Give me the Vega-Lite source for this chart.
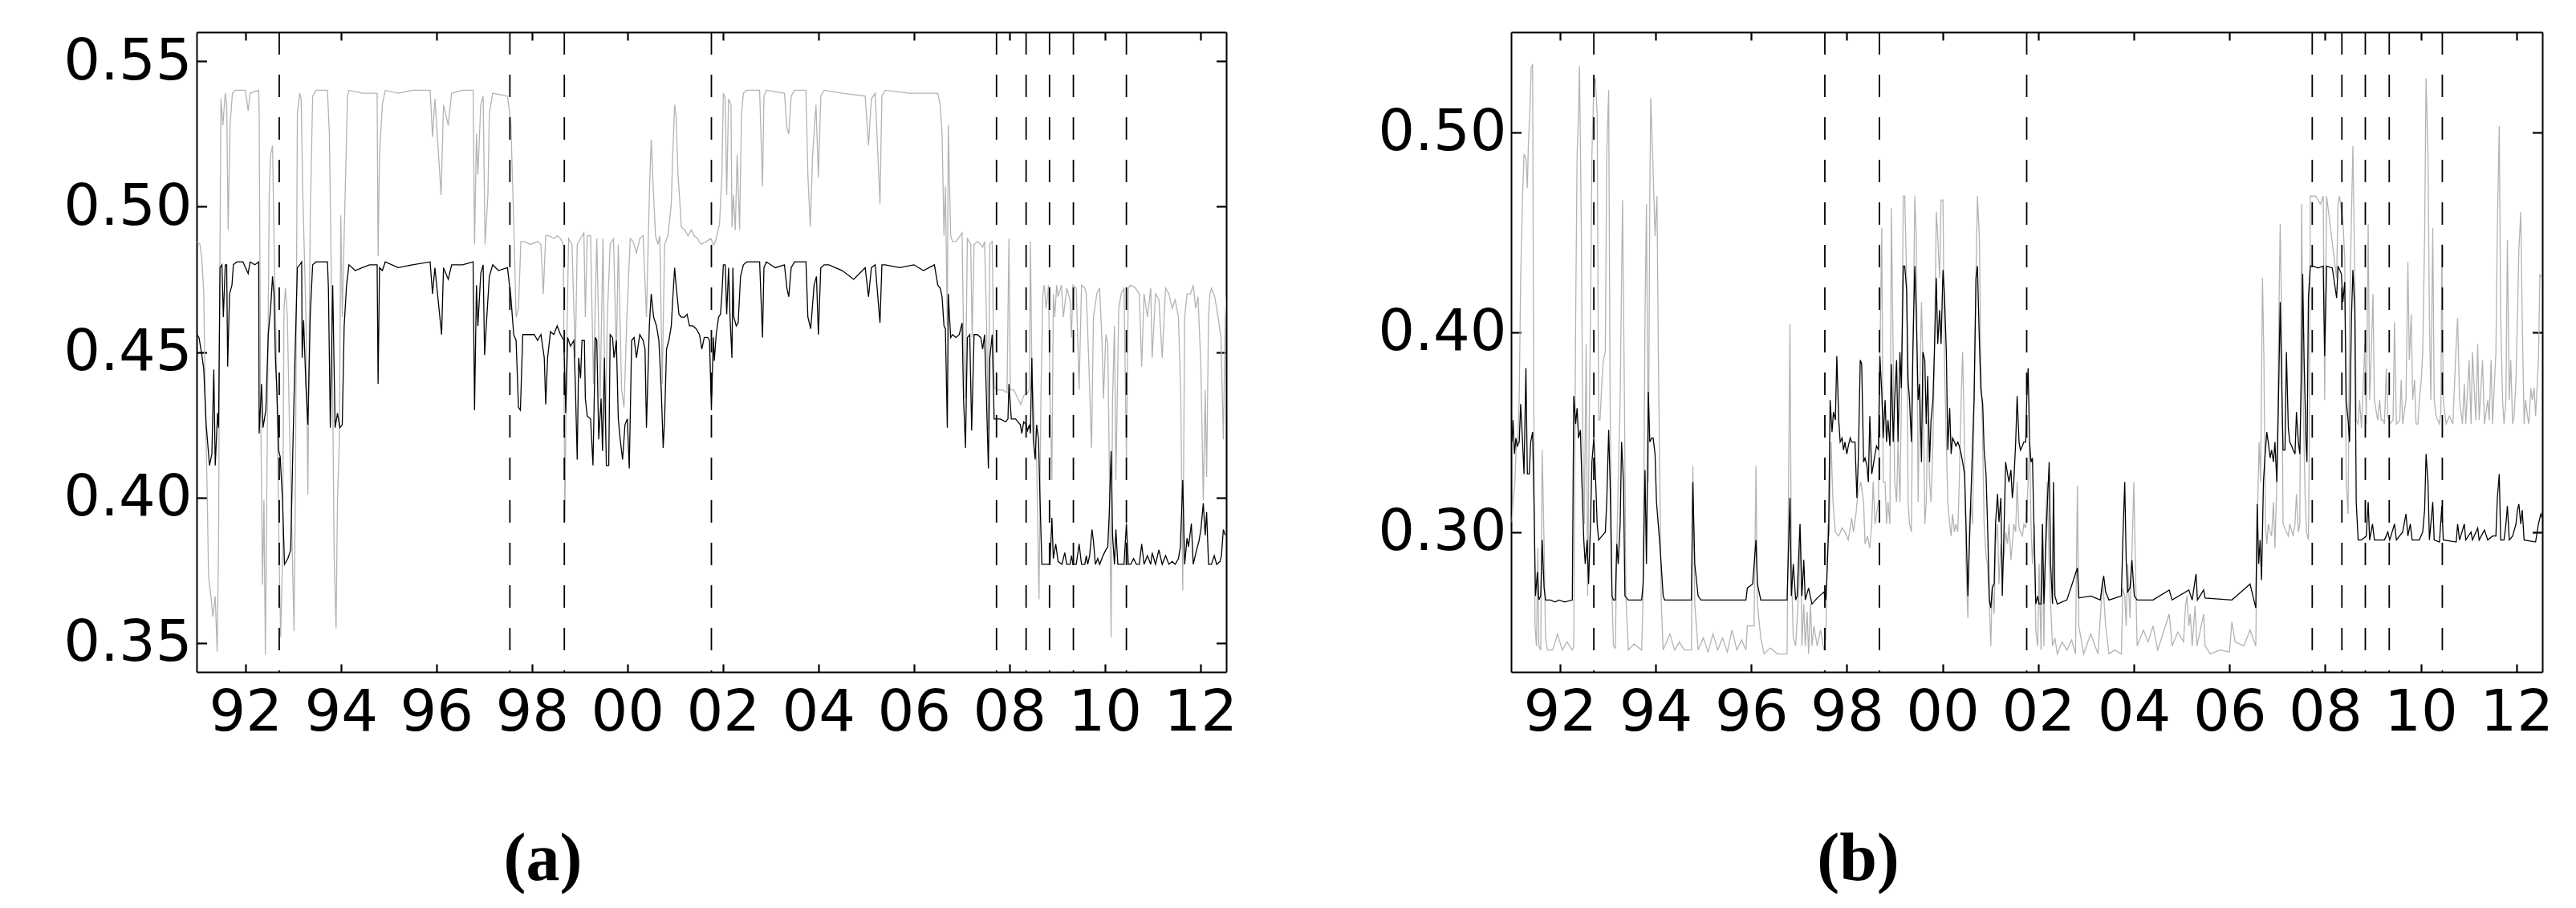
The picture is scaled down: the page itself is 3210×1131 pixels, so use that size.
{
"$schema": "https://vega.github.io/schema/vega-lite/v6.json",
"padding": {"left": 78, "top": 38, "right": 0, "bottom": 0},
"background": "white",
"config": {
  "view": {"stroke": null},
  "axis": {"domainColor": "#000", "tickColor": "#000", "labelColor": "#000", "grid": false, "labelFont": "DejaVu Sans", "labelFontSize": 72, "domainWidth": 2, "tickWidth": 2.2, "labelFlush": false, "labelOverlap": false}
},
"datasets": {
"crisis": [{"t":1992.71},{"t":1997.54},{"t":1998.68},{"t":2001.76},{"t":2007.73},{"t":2008.35},{"t":2008.84},{"t":2009.34},{"t":2010.45}],
"ak": [
{"t":1990.99,"v":0.456},{"t":1991.03,"v":0.455},{"t":1991.09,"v":0.449},{"t":1991.13,"v":0.444},{"t":1991.18,"v":0.425},{"t":1991.25,"v":0.411},{"t":1991.30,"v":0.415},{"t":1991.34,"v":0.444},{"t":1991.37,"v":0.411},{"t":1991.42,"v":0.429},{"t":1991.44,"v":0.424},{"t":1991.47,"v":0.479},{"t":1991.51,"v":0.480},{"t":1991.54,"v":0.462},{"t":1991.58,"v":0.480},{"t":1991.61,"v":0.480},{"t":1991.63,"v":0.445},{"t":1991.67,"v":0.470},{"t":1991.72,"v":0.473},{"t":1991.75,"v":0.480},{"t":1991.82,"v":0.481},{"t":1991.95,"v":0.481},{"t":1992.06,"v":0.477},{"t":1992.10,"v":0.481},{"t":1992.20,"v":0.480},{"t":1992.28,"v":0.481},{"t":1992.29,"v":0.422},{"t":1992.34,"v":0.439},{"t":1992.37,"v":0.424},{"t":1992.43,"v":0.430},{"t":1992.48,"v":0.456},{"t":1992.53,"v":0.465},{"t":1992.57,"v":0.476},{"t":1992.60,"v":0.470},{"t":1992.63,"v":0.448},{"t":1992.66,"v":0.437},{"t":1992.70,"v":0.416},{"t":1992.73,"v":0.414},{"t":1992.78,"v":0.399},{"t":1992.82,"v":0.377},{"t":1992.89,"v":0.379},{"t":1992.95,"v":0.382},{"t":1993.00,"v":0.420},{"t":1993.04,"v":0.448},{"t":1993.09,"v":0.479},{"t":1993.14,"v":0.480},{"t":1993.18,"v":0.481},{"t":1993.19,"v":0.448},{"t":1993.22,"v":0.461},{"t":1993.27,"v":0.438},{"t":1993.31,"v":0.425},{"t":1993.36,"v":0.463},{"t":1993.41,"v":0.480},{"t":1993.48,"v":0.481},{"t":1993.72,"v":0.481},{"t":1993.74,"v":0.472},{"t":1993.78,"v":0.424},{"t":1993.83,"v":0.473},{"t":1993.88,"v":0.424},{"t":1993.93,"v":0.429},{"t":1993.98,"v":0.424},{"t":1994.03,"v":0.425},{"t":1994.07,"v":0.459},{"t":1994.12,"v":0.473},{"t":1994.17,"v":0.480},{"t":1994.30,"v":0.478},{"t":1994.45,"v":0.479},{"t":1994.60,"v":0.480},{"t":1994.76,"v":0.480},{"t":1994.78,"v":0.439},{"t":1994.81,"v":0.479},{"t":1994.87,"v":0.478},{"t":1994.93,"v":0.481},{"t":1995.20,"v":0.479},{"t":1995.50,"v":0.480},{"t":1995.87,"v":0.481},{"t":1995.92,"v":0.470},{"t":1995.97,"v":0.479},{"t":1996.11,"v":0.456},{"t":1996.15,"v":0.479},{"t":1996.25,"v":0.475},{"t":1996.32,"v":0.480},{"t":1996.55,"v":0.480},{"t":1996.77,"v":0.481},{"t":1996.80,"v":0.430},{"t":1996.84,"v":0.473},{"t":1996.87,"v":0.459},{"t":1996.93,"v":0.477},{"t":1996.98,"v":0.480},{"t":1997.01,"v":0.449},{"t":1997.06,"v":0.463},{"t":1997.11,"v":0.476},{"t":1997.18,"v":0.480},{"t":1997.30,"v":0.478},{"t":1997.49,"v":0.479},{"t":1997.56,"v":0.469},{"t":1997.62,"v":0.456},{"t":1997.67,"v":0.454},{"t":1997.72,"v":0.431},{"t":1997.76,"v":0.430},{"t":1997.81,"v":0.456},{"t":1997.88,"v":0.456},{"t":1997.98,"v":0.456},{"t":1998.05,"v":0.456},{"t":1998.12,"v":0.454},{"t":1998.19,"v":0.456},{"t":1998.26,"v":0.448},{"t":1998.29,"v":0.432},{"t":1998.33,"v":0.448},{"t":1998.39,"v":0.457},{"t":1998.46,"v":0.456},{"t":1998.53,"v":0.459},{"t":1998.60,"v":0.456},{"t":1998.67,"v":0.454},{"t":1998.71,"v":0.429},{"t":1998.75,"v":0.455},{"t":1998.81,"v":0.452},{"t":1998.88,"v":0.454},{"t":1998.91,"v":0.439},{"t":1998.95,"v":0.413},{"t":1998.98,"v":0.448},{"t":1999.02,"v":0.441},{"t":1999.05,"v":0.454},{"t":1999.10,"v":0.454},{"t":1999.12,"v":0.434},{"t":1999.16,"v":0.428},{"t":1999.23,"v":0.427},{"t":1999.28,"v":0.411},{"t":1999.33,"v":0.455},{"t":1999.36,"v":0.454},{"t":1999.40,"v":0.420},{"t":1999.45,"v":0.434},{"t":1999.48,"v":0.416},{"t":1999.52,"v":0.448},{"t":1999.56,"v":0.411},{"t":1999.61,"v":0.411},{"t":1999.64,"v":0.456},{"t":1999.69,"v":0.455},{"t":1999.72,"v":0.448},{"t":1999.77,"v":0.454},{"t":1999.81,"v":0.427},{"t":1999.85,"v":0.420},{"t":1999.90,"v":0.413},{"t":1999.95,"v":0.425},{"t":2000.00,"v":0.427},{"t":2000.04,"v":0.410},{"t":2000.09,"v":0.454},{"t":2000.14,"v":0.455},{"t":2000.19,"v":0.448},{"t":2000.26,"v":0.456},{"t":2000.33,"v":0.454},{"t":2000.37,"v":0.451},{"t":2000.40,"v":0.424},{"t":2000.46,"v":0.459},{"t":2000.50,"v":0.470},{"t":2000.55,"v":0.462},{"t":2000.61,"v":0.459},{"t":2000.66,"v":0.454},{"t":2000.71,"v":0.437},{"t":2000.75,"v":0.417},{"t":2000.78,"v":0.427},{"t":2000.82,"v":0.451},{"t":2000.87,"v":0.454},{"t":2000.92,"v":0.459},{"t":2000.95,"v":0.468},{"t":2000.99,"v":0.479},{"t":2001.02,"v":0.473},{"t":2001.08,"v":0.463},{"t":2001.13,"v":0.462},{"t":2001.20,"v":0.462},{"t":2001.25,"v":0.463},{"t":2001.30,"v":0.459},{"t":2001.37,"v":0.459},{"t":2001.44,"v":0.458},{"t":2001.51,"v":0.456},{"t":2001.56,"v":0.451},{"t":2001.61,"v":0.455},{"t":2001.68,"v":0.455},{"t":2001.72,"v":0.454},{"t":2001.76,"v":0.430},{"t":2001.80,"v":0.455},{"t":2001.82,"v":0.447},{"t":2001.86,"v":0.456},{"t":2001.91,"v":0.462},{"t":2001.95,"v":0.463},{"t":2001.98,"v":0.470},{"t":2002.01,"v":0.480},{"t":2002.05,"v":0.480},{"t":2002.08,"v":0.463},{"t":2002.12,"v":0.479},{"t":2002.15,"v":0.462},{"t":2002.19,"v":0.448},{"t":2002.21,"v":0.479},{"t":2002.23,"v":0.462},{"t":2002.28,"v":0.459},{"t":2002.32,"v":0.460},{"t":2002.37,"v":0.476},{"t":2002.43,"v":0.480},{"t":2002.50,"v":0.481},{"t":2002.77,"v":0.481},{"t":2002.83,"v":0.455},{"t":2002.86,"v":0.479},{"t":2002.91,"v":0.481},{"t":2003.10,"v":0.479},{"t":2003.29,"v":0.480},{"t":2003.34,"v":0.472},{"t":2003.38,"v":0.469},{"t":2003.43,"v":0.479},{"t":2003.50,"v":0.481},{"t":2003.74,"v":0.481},{"t":2003.78,"v":0.462},{"t":2003.84,"v":0.458},{"t":2003.91,"v":0.473},{"t":2003.96,"v":0.476},{"t":2004.00,"v":0.456},{"t":2004.05,"v":0.479},{"t":2004.12,"v":0.480},{"t":2004.22,"v":0.480},{"t":2004.50,"v":0.478},{"t":2004.74,"v":0.475},{"t":2004.98,"v":0.479},{"t":2005.05,"v":0.469},{"t":2005.11,"v":0.479},{"t":2005.19,"v":0.480},{"t":2005.29,"v":0.460},{"t":2005.33,"v":0.480},{"t":2005.40,"v":0.480},{"t":2005.70,"v":0.479},{"t":2006.00,"v":0.480},{"t":2006.20,"v":0.478},{"t":2006.43,"v":0.480},{"t":2006.50,"v":0.473},{"t":2006.55,"v":0.472},{"t":2006.59,"v":0.469},{"t":2006.63,"v":0.459},{"t":2006.66,"v":0.458},{"t":2006.70,"v":0.424},{"t":2006.72,"v":0.470},{"t":2006.77,"v":0.455},{"t":2006.81,"v":0.456},{"t":2006.88,"v":0.455},{"t":2006.95,"v":0.456},{"t":2007.01,"v":0.460},{"t":2007.04,"v":0.434},{"t":2007.08,"v":0.417},{"t":2007.12,"v":0.455},{"t":2007.17,"v":0.456},{"t":2007.21,"v":0.423},{"t":2007.26,"v":0.456},{"t":2007.33,"v":0.456},{"t":2007.40,"v":0.455},{"t":2007.44,"v":0.451},{"t":2007.48,"v":0.456},{"t":2007.52,"v":0.434},{"t":2007.56,"v":0.410},{"t":2007.59,"v":0.448},{"t":2007.64,"v":0.456},{"t":2007.68,"v":0.427},{"t":2007.75,"v":0.427},{"t":2007.81,"v":0.427},{"t":2007.92,"v":0.426},{"t":2007.97,"v":0.427},{"t":2007.99,"v":0.439},{"t":2008.04,"v":0.427},{"t":2008.13,"v":0.427},{"t":2008.23,"v":0.425},{"t":2008.26,"v":0.422},{"t":2008.30,"v":0.426},{"t":2008.35,"v":0.425},{"t":2008.38,"v":0.423},{"t":2008.42,"v":0.425},{"t":2008.44,"v":0.422},{"t":2008.47,"v":0.448},{"t":2008.50,"v":0.420},{"t":2008.54,"v":0.413},{"t":2008.57,"v":0.425},{"t":2008.61,"v":0.420},{"t":2008.64,"v":0.400},{"t":2008.68,"v":0.377},{"t":2008.78,"v":0.377},{"t":2008.85,"v":0.377},{"t":2008.89,"v":0.393},{"t":2008.92,"v":0.379},{"t":2008.97,"v":0.384},{"t":2009.02,"v":0.378},{"t":2009.10,"v":0.377},{"t":2009.16,"v":0.381},{"t":2009.20,"v":0.377},{"t":2009.27,"v":0.377},{"t":2009.30,"v":0.380},{"t":2009.33,"v":0.377},{"t":2009.40,"v":0.377},{"t":2009.46,"v":0.384},{"t":2009.51,"v":0.377},{"t":2009.58,"v":0.377},{"t":2009.61,"v":0.380},{"t":2009.64,"v":0.377},{"t":2009.68,"v":0.380},{"t":2009.73,"v":0.389},{"t":2009.76,"v":0.385},{"t":2009.80,"v":0.377},{"t":2009.85,"v":0.379},{"t":2009.89,"v":0.377},{"t":2009.96,"v":0.380},{"t":2010.02,"v":0.382},{"t":2010.06,"v":0.383},{"t":2010.09,"v":0.394},{"t":2010.13,"v":0.416},{"t":2010.16,"v":0.387},{"t":2010.20,"v":0.377},{"t":2010.23,"v":0.389},{"t":2010.27,"v":0.377},{"t":2010.40,"v":0.377},{"t":2010.45,"v":0.391},{"t":2010.49,"v":0.377},{"t":2010.54,"v":0.377},{"t":2010.60,"v":0.379},{"t":2010.66,"v":0.377},{"t":2010.72,"v":0.377},{"t":2010.77,"v":0.384},{"t":2010.82,"v":0.377},{"t":2010.89,"v":0.380},{"t":2010.96,"v":0.377},{"t":2010.99,"v":0.381},{"t":2011.06,"v":0.377},{"t":2011.13,"v":0.382},{"t":2011.20,"v":0.377},{"t":2011.27,"v":0.380},{"t":2011.34,"v":0.377},{"t":2011.41,"v":0.378},{"t":2011.47,"v":0.377},{"t":2011.54,"v":0.379},{"t":2011.58,"v":0.383},{"t":2011.63,"v":0.406},{"t":2011.67,"v":0.377},{"t":2011.72,"v":0.386},{"t":2011.75,"v":0.383},{"t":2011.81,"v":0.391},{"t":2011.85,"v":0.377},{"t":2011.92,"v":0.382},{"t":2011.97,"v":0.385},{"t":2012.01,"v":0.389},{"t":2012.06,"v":0.398},{"t":2012.10,"v":0.387},{"t":2012.13,"v":0.395},{"t":2012.17,"v":0.377},{"t":2012.23,"v":0.377},{"t":2012.29,"v":0.380},{"t":2012.34,"v":0.377},{"t":2012.41,"v":0.378},{"t":2012.44,"v":0.380},{"t":2012.48,"v":0.389},{"t":2012.52,"v":0.387}
],
"ag": [
{"t":1990.99,"v":0.488},{"t":1991.05,"v":0.487},{"t":1991.09,"v":0.482},{"t":1991.13,"v":0.470},{"t":1991.16,"v":0.434},{"t":1991.20,"v":0.403},{"t":1991.23,"v":0.373},{"t":1991.28,"v":0.366},{"t":1991.32,"v":0.359},{"t":1991.37,"v":0.366},{"t":1991.41,"v":0.347},{"t":1991.44,"v":0.384},{"t":1991.46,"v":0.462},{"t":1991.49,"v":0.537},{"t":1991.53,"v":0.528},{"t":1991.58,"v":0.539},{"t":1991.61,"v":0.535},{"t":1991.64,"v":0.492},{"t":1991.68,"v":0.528},{"t":1991.73,"v":0.539},{"t":1991.79,"v":0.540},{"t":1992.00,"v":0.540},{"t":1992.06,"v":0.533},{"t":1992.10,"v":0.539},{"t":1992.28,"v":0.540},{"t":1992.29,"v":0.532},{"t":1992.32,"v":0.434},{"t":1992.36,"v":0.370},{"t":1992.39,"v":0.399},{"t":1992.42,"v":0.346},{"t":1992.46,"v":0.420},{"t":1992.50,"v":0.504},{"t":1992.53,"v":0.518},{"t":1992.57,"v":0.521},{"t":1992.60,"v":0.490},{"t":1992.65,"v":0.448},{"t":1992.71,"v":0.377},{"t":1992.74,"v":0.352},{"t":1992.78,"v":0.381},{"t":1992.81,"v":0.465},{"t":1992.84,"v":0.472},{"t":1992.88,"v":0.462},{"t":1992.93,"v":0.420},{"t":1992.98,"v":0.384},{"t":1993.02,"v":0.354},{"t":1993.05,"v":0.406},{"t":1993.09,"v":0.532},{"t":1993.14,"v":0.539},{"t":1993.17,"v":0.537},{"t":1993.20,"v":0.507},{"t":1993.27,"v":0.462},{"t":1993.31,"v":0.401},{"t":1993.36,"v":0.497},{"t":1993.41,"v":0.538},{"t":1993.48,"v":0.540},{"t":1993.72,"v":0.540},{"t":1993.76,"v":0.525},{"t":1993.79,"v":0.490},{"t":1993.83,"v":0.434},{"t":1993.86,"v":0.380},{"t":1993.90,"v":0.355},{"t":1993.93,"v":0.399},{"t":1993.97,"v":0.420},{"t":1994.00,"v":0.497},{"t":1994.03,"v":0.462},{"t":1994.09,"v":0.504},{"t":1994.14,"v":0.538},{"t":1994.17,"v":0.540},{"t":1994.45,"v":0.539},{"t":1994.76,"v":0.539},{"t":1994.78,"v":0.483},{"t":1994.81,"v":0.518},{"t":1994.87,"v":0.535},{"t":1994.93,"v":0.540},{"t":1995.20,"v":0.539},{"t":1995.50,"v":0.540},{"t":1995.87,"v":0.540},{"t":1995.92,"v":0.524},{"t":1995.97,"v":0.537},{"t":1996.10,"v":0.504},{"t":1996.15,"v":0.535},{"t":1996.25,"v":0.528},{"t":1996.32,"v":0.539},{"t":1996.55,"v":0.540},{"t":1996.77,"v":0.540},{"t":1996.80,"v":0.487},{"t":1996.84,"v":0.525},{"t":1996.87,"v":0.511},{"t":1996.93,"v":0.535},{"t":1996.98,"v":0.538},{"t":1997.02,"v":0.487},{"t":1997.08,"v":0.504},{"t":1997.11,"v":0.532},{"t":1997.18,"v":0.539},{"t":1997.49,"v":0.538},{"t":1997.56,"v":0.529},{"t":1997.63,"v":0.489},{"t":1997.67,"v":0.462},{"t":1997.72,"v":0.465},{"t":1997.77,"v":0.488},{"t":1997.84,"v":0.488},{"t":1997.98,"v":0.487},{"t":1998.12,"v":0.488},{"t":1998.19,"v":0.487},{"t":1998.24,"v":0.470},{"t":1998.29,"v":0.490},{"t":1998.36,"v":0.490},{"t":1998.46,"v":0.489},{"t":1998.53,"v":0.490},{"t":1998.60,"v":0.489},{"t":1998.66,"v":0.487},{"t":1998.69,"v":0.392},{"t":1998.73,"v":0.451},{"t":1998.77,"v":0.489},{"t":1998.84,"v":0.487},{"t":1998.91,"v":0.448},{"t":1998.95,"v":0.487},{"t":1999.02,"v":0.489},{"t":1999.09,"v":0.491},{"t":1999.12,"v":0.462},{"t":1999.16,"v":0.490},{"t":1999.23,"v":0.490},{"t":1999.29,"v":0.439},{"t":1999.36,"v":0.489},{"t":1999.43,"v":0.434},{"t":1999.49,"v":0.489},{"t":1999.54,"v":0.420},{"t":1999.58,"v":0.462},{"t":1999.64,"v":0.487},{"t":1999.71,"v":0.489},{"t":1999.77,"v":0.448},{"t":1999.81,"v":0.487},{"t":1999.88,"v":0.437},{"t":1999.93,"v":0.431},{"t":1999.99,"v":0.462},{"t":2000.06,"v":0.489},{"t":2000.12,"v":0.488},{"t":2000.19,"v":0.484},{"t":2000.26,"v":0.489},{"t":2000.33,"v":0.490},{"t":2000.40,"v":0.462},{"t":2000.46,"v":0.504},{"t":2000.50,"v":0.523},{"t":2000.54,"v":0.507},{"t":2000.59,"v":0.490},{"t":2000.64,"v":0.487},{"t":2000.68,"v":0.490},{"t":2000.73,"v":0.439},{"t":2000.78,"v":0.487},{"t":2000.85,"v":0.490},{"t":2000.92,"v":0.501},{"t":2000.95,"v":0.518},{"t":2000.99,"v":0.535},{"t":2001.02,"v":0.531},{"t":2001.06,"v":0.511},{"t":2001.09,"v":0.504},{"t":2001.13,"v":0.493},{"t":2001.20,"v":0.492},{"t":2001.27,"v":0.490},{"t":2001.34,"v":0.492},{"t":2001.40,"v":0.490},{"t":2001.47,"v":0.489},{"t":2001.54,"v":0.487},{"t":2001.65,"v":0.488},{"t":2001.75,"v":0.489},{"t":2001.80,"v":0.487},{"t":2001.82,"v":0.487},{"t":2001.86,"v":0.489},{"t":2001.93,"v":0.494},{"t":2001.98,"v":0.511},{"t":2002.01,"v":0.539},{"t":2002.05,"v":0.537},{"t":2002.08,"v":0.504},{"t":2002.12,"v":0.537},{"t":2002.17,"v":0.535},{"t":2002.19,"v":0.493},{"t":2002.22,"v":0.504},{"t":2002.26,"v":0.492},{"t":2002.30,"v":0.518},{"t":2002.35,"v":0.492},{"t":2002.39,"v":0.532},{"t":2002.43,"v":0.539},{"t":2002.50,"v":0.540},{"t":2002.77,"v":0.540},{"t":2002.83,"v":0.507},{"t":2002.86,"v":0.538},{"t":2002.91,"v":0.540},{"t":2003.29,"v":0.539},{"t":2003.34,"v":0.527},{"t":2003.38,"v":0.525},{"t":2003.43,"v":0.538},{"t":2003.50,"v":0.540},{"t":2003.74,"v":0.540},{"t":2003.78,"v":0.511},{"t":2003.83,"v":0.493},{"t":2003.88,"v":0.518},{"t":2003.95,"v":0.535},{"t":2004.00,"v":0.510},{"t":2004.05,"v":0.538},{"t":2004.12,"v":0.540},{"t":2004.50,"v":0.539},{"t":2004.98,"v":0.538},{"t":2005.05,"v":0.521},{"t":2005.11,"v":0.537},{"t":2005.19,"v":0.539},{"t":2005.29,"v":0.501},{"t":2005.33,"v":0.538},{"t":2005.40,"v":0.540},{"t":2005.90,"v":0.539},{"t":2006.50,"v":0.539},{"t":2006.55,"v":0.535},{"t":2006.59,"v":0.525},{"t":2006.63,"v":0.490},{"t":2006.66,"v":0.507},{"t":2006.70,"v":0.459},{"t":2006.72,"v":0.528},{"t":2006.77,"v":0.490},{"t":2006.81,"v":0.488},{"t":2006.88,"v":0.488},{"t":2006.97,"v":0.490},{"t":2007.01,"v":0.491},{"t":2007.04,"v":0.455},{"t":2007.08,"v":0.434},{"t":2007.12,"v":0.489},{"t":2007.19,"v":0.487},{"t":2007.22,"v":0.455},{"t":2007.26,"v":0.487},{"t":2007.33,"v":0.488},{"t":2007.40,"v":0.487},{"t":2007.44,"v":0.486},{"t":2007.48,"v":0.488},{"t":2007.52,"v":0.462},{"t":2007.56,"v":0.423},{"t":2007.59,"v":0.487},{"t":2007.64,"v":0.488},{"t":2007.68,"v":0.438},{"t":2007.75,"v":0.437},{"t":2007.85,"v":0.437},{"t":2007.95,"v":0.436},{"t":2007.99,"v":0.489},{"t":2008.02,"v":0.437},{"t":2008.09,"v":0.437},{"t":2008.18,"v":0.434},{"t":2008.24,"v":0.432},{"t":2008.30,"v":0.435},{"t":2008.38,"v":0.436},{"t":2008.42,"v":0.437},{"t":2008.44,"v":0.488},{"t":2008.47,"v":0.445},{"t":2008.50,"v":0.434},{"t":2008.54,"v":0.420},{"t":2008.57,"v":0.413},{"t":2008.62,"v":0.365},{"t":2008.66,"v":0.434},{"t":2008.70,"v":0.470},{"t":2008.73,"v":0.473},{"t":2008.77,"v":0.465},{"t":2008.82,"v":0.473},{"t":2008.85,"v":0.434},{"t":2008.89,"v":0.406},{"t":2008.92,"v":0.470},{"t":2008.95,"v":0.462},{"t":2008.99,"v":0.473},{"t":2009.02,"v":0.469},{"t":2009.09,"v":0.473},{"t":2009.13,"v":0.462},{"t":2009.20,"v":0.472},{"t":2009.27,"v":0.468},{"t":2009.30,"v":0.455},{"t":2009.33,"v":0.473},{"t":2009.40,"v":0.472},{"t":2009.46,"v":0.437},{"t":2009.51,"v":0.473},{"t":2009.58,"v":0.472},{"t":2009.61,"v":0.470},{"t":2009.66,"v":0.448},{"t":2009.72,"v":0.417},{"t":2009.76,"v":0.462},{"t":2009.83,"v":0.470},{"t":2009.89,"v":0.472},{"t":2009.94,"v":0.453},{"t":2009.97,"v":0.434},{"t":2010.02,"v":0.456},{"t":2010.06,"v":0.453},{"t":2010.09,"v":0.413},{"t":2010.13,"v":0.352},{"t":2010.16,"v":0.434},{"t":2010.20,"v":0.459},{"t":2010.23,"v":0.406},{"t":2010.29,"v":0.465},{"t":2010.34,"v":0.470},{"t":2010.40,"v":0.472},{"t":2010.45,"v":0.413},{"t":2010.49,"v":0.472},{"t":2010.54,"v":0.473},{"t":2010.64,"v":0.472},{"t":2010.72,"v":0.470},{"t":2010.77,"v":0.445},{"t":2010.82,"v":0.470},{"t":2010.89,"v":0.462},{"t":2010.96,"v":0.472},{"t":2010.99,"v":0.448},{"t":2011.06,"v":0.470},{"t":2011.13,"v":0.468},{"t":2011.20,"v":0.448},{"t":2011.27,"v":0.472},{"t":2011.34,"v":0.470},{"t":2011.41,"v":0.465},{"t":2011.47,"v":0.468},{"t":2011.54,"v":0.462},{"t":2011.59,"v":0.434},{"t":2011.63,"v":0.368},{"t":2011.67,"v":0.462},{"t":2011.72,"v":0.470},{"t":2011.79,"v":0.470},{"t":2011.85,"v":0.473},{"t":2011.90,"v":0.465},{"t":2011.95,"v":0.469},{"t":2012.01,"v":0.445},{"t":2012.06,"v":0.399},{"t":2012.10,"v":0.437},{"t":2012.13,"v":0.407},{"t":2012.17,"v":0.462},{"t":2012.20,"v":0.470},{"t":2012.23,"v":0.472},{"t":2012.30,"v":0.469},{"t":2012.37,"v":0.462},{"t":2012.43,"v":0.455},{"t":2012.48,"v":0.420},{"t":2012.52,"v":0.462},{"t":2012.54,"v":0.469}
],
"bk": [
{"t":1991.00,"v":0.345},{"t":1991.02,"v":0.356},{"t":1991.05,"v":0.339},{"t":1991.08,"v":0.347},{"t":1991.11,"v":0.343},{"t":1991.15,"v":0.345},{"t":1991.18,"v":0.364},{"t":1991.22,"v":0.345},{"t":1991.25,"v":0.329},{"t":1991.29,"v":0.382},{"t":1991.32,"v":0.329},{"t":1991.36,"v":0.329},{"t":1991.39,"v":0.345},{"t":1991.43,"v":0.350},{"t":1991.46,"v":0.313},{"t":1991.49,"v":0.268},{"t":1991.53,"v":0.280},{"t":1991.56,"v":0.266},{"t":1991.60,"v":0.268},{"t":1991.63,"v":0.296},{"t":1991.67,"v":0.272},{"t":1991.70,"v":0.266},{"t":1991.80,"v":0.266},{"t":1991.90,"v":0.265},{"t":1991.98,"v":0.266},{"t":1992.10,"v":0.265},{"t":1992.26,"v":0.266},{"t":1992.29,"v":0.368},{"t":1992.33,"v":0.354},{"t":1992.36,"v":0.362},{"t":1992.39,"v":0.347},{"t":1992.43,"v":0.351},{"t":1992.46,"v":0.325},{"t":1992.50,"v":0.296},{"t":1992.53,"v":0.284},{"t":1992.57,"v":0.296},{"t":1992.60,"v":0.274},{"t":1992.64,"v":0.304},{"t":1992.67,"v":0.335},{"t":1992.71,"v":0.347},{"t":1992.74,"v":0.331},{"t":1992.78,"v":0.304},{"t":1992.81,"v":0.296},{"t":1992.88,"v":0.298},{"t":1992.95,"v":0.300},{"t":1992.98,"v":0.315},{"t":1993.02,"v":0.351},{"t":1993.05,"v":0.325},{"t":1993.09,"v":0.268},{"t":1993.12,"v":0.266},{"t":1993.16,"v":0.266},{"t":1993.19,"v":0.294},{"t":1993.22,"v":0.284},{"t":1993.26,"v":0.304},{"t":1993.29,"v":0.345},{"t":1993.33,"v":0.325},{"t":1993.36,"v":0.268},{"t":1993.43,"v":0.266},{"t":1993.71,"v":0.266},{"t":1993.74,"v":0.274},{"t":1993.78,"v":0.331},{"t":1993.81,"v":0.284},{"t":1993.85,"v":0.370},{"t":1993.88,"v":0.345},{"t":1993.92,"v":0.347},{"t":1993.95,"v":0.347},{"t":1993.99,"v":0.339},{"t":1994.02,"v":0.315},{"t":1994.09,"v":0.294},{"t":1994.16,"v":0.268},{"t":1994.19,"v":0.266},{"t":1994.75,"v":0.266},{"t":1994.78,"v":0.325},{"t":1994.82,"v":0.284},{"t":1994.89,"v":0.268},{"t":1994.95,"v":0.266},{"t":1995.89,"v":0.266},{"t":1995.92,"v":0.272},{"t":1996.03,"v":0.274},{"t":1996.10,"v":0.296},{"t":1996.13,"v":0.274},{"t":1996.20,"v":0.266},{"t":1996.75,"v":0.266},{"t":1996.81,"v":0.317},{"t":1996.84,"v":0.268},{"t":1996.88,"v":0.284},{"t":1996.93,"v":0.266},{"t":1996.96,"v":0.268},{"t":1997.02,"v":0.304},{"t":1997.06,"v":0.268},{"t":1997.10,"v":0.286},{"t":1997.13,"v":0.266},{"t":1997.20,"v":0.272},{"t":1997.27,"v":0.264},{"t":1997.38,"v":0.267},{"t":1997.52,"v":0.270},{"t":1997.56,"v":0.266},{"t":1997.58,"v":0.276},{"t":1997.62,"v":0.302},{"t":1997.65,"v":0.366},{"t":1997.69,"v":0.350},{"t":1997.72,"v":0.360},{"t":1997.76,"v":0.356},{"t":1997.79,"v":0.388},{"t":1997.83,"v":0.356},{"t":1997.86,"v":0.345},{"t":1997.90,"v":0.347},{"t":1997.93,"v":0.341},{"t":1997.96,"v":0.345},{"t":1998.00,"v":0.339},{"t":1998.03,"v":0.343},{"t":1998.07,"v":0.347},{"t":1998.10,"v":0.345},{"t":1998.17,"v":0.345},{"t":1998.21,"v":0.317},{"t":1998.24,"v":0.337},{"t":1998.28,"v":0.386},{"t":1998.31,"v":0.384},{"t":1998.35,"v":0.335},{"t":1998.38,"v":0.337},{"t":1998.42,"v":0.333},{"t":1998.45,"v":0.325},{"t":1998.48,"v":0.358},{"t":1998.52,"v":0.329},{"t":1998.55,"v":0.333},{"t":1998.59,"v":0.339},{"t":1998.62,"v":0.343},{"t":1998.66,"v":0.341},{"t":1998.69,"v":0.388},{"t":1998.73,"v":0.370},{"t":1998.76,"v":0.347},{"t":1998.80,"v":0.366},{"t":1998.83,"v":0.345},{"t":1998.86,"v":0.356},{"t":1998.90,"v":0.343},{"t":1998.93,"v":0.384},{"t":1998.97,"v":0.345},{"t":1999.00,"v":0.366},{"t":1999.04,"v":0.386},{"t":1999.07,"v":0.345},{"t":1999.11,"v":0.390},{"t":1999.14,"v":0.372},{"t":1999.18,"v":0.433},{"t":1999.21,"v":0.433},{"t":1999.25,"v":0.421},{"t":1999.28,"v":0.376},{"t":1999.31,"v":0.366},{"t":1999.35,"v":0.345},{"t":1999.38,"v":0.390},{"t":1999.42,"v":0.433},{"t":1999.45,"v":0.411},{"t":1999.49,"v":0.366},{"t":1999.52,"v":0.374},{"t":1999.56,"v":0.335},{"t":1999.59,"v":0.390},{"t":1999.63,"v":0.386},{"t":1999.66,"v":0.354},{"t":1999.69,"v":0.378},{"t":1999.73,"v":0.335},{"t":1999.76,"v":0.356},{"t":1999.80,"v":0.366},{"t":1999.83,"v":0.390},{"t":1999.87,"v":0.427},{"t":1999.90,"v":0.394},{"t":1999.94,"v":0.411},{"t":1999.97,"v":0.394},{"t":2000.01,"v":0.431},{"t":2000.04,"v":0.419},{"t":2000.08,"v":0.390},{"t":2000.11,"v":0.341},{"t":2000.15,"v":0.362},{"t":2000.18,"v":0.339},{"t":2000.21,"v":0.347},{"t":2000.25,"v":0.345},{"t":2000.28,"v":0.343},{"t":2000.32,"v":0.345},{"t":2000.35,"v":0.343},{"t":2000.39,"v":0.339},{"t":2000.42,"v":0.335},{"t":2000.46,"v":0.329},{"t":2000.49,"v":0.305},{"t":2000.53,"v":0.268},{"t":2000.56,"v":0.292},{"t":2000.59,"v":0.315},{"t":2000.63,"v":0.345},{"t":2000.66,"v":0.366},{"t":2000.70,"v":0.427},{"t":2000.73,"v":0.433},{"t":2000.77,"v":0.396},{"t":2000.80,"v":0.372},{"t":2000.84,"v":0.364},{"t":2000.87,"v":0.341},{"t":2000.91,"v":0.329},{"t":2000.94,"v":0.305},{"t":2000.98,"v":0.266},{"t":2001.01,"v":0.262},{"t":2001.04,"v":0.272},{"t":2001.08,"v":0.274},{"t":2001.11,"v":0.305},{"t":2001.15,"v":0.319},{"t":2001.18,"v":0.305},{"t":2001.22,"v":0.317},{"t":2001.25,"v":0.268},{"t":2001.29,"v":0.305},{"t":2001.32,"v":0.335},{"t":2001.36,"v":0.329},{"t":2001.39,"v":0.325},{"t":2001.43,"v":0.331},{"t":2001.46,"v":0.317},{"t":2001.49,"v":0.325},{"t":2001.53,"v":0.345},{"t":2001.56,"v":0.368},{"t":2001.60,"v":0.345},{"t":2001.63,"v":0.341},{"t":2001.67,"v":0.343},{"t":2001.70,"v":0.345},{"t":2001.74,"v":0.345},{"t":2001.76,"v":0.366},{"t":2001.79,"v":0.382},{"t":2001.82,"v":0.345},{"t":2001.85,"v":0.335},{"t":2001.88,"v":0.337},{"t":2001.92,"v":0.294},{"t":2001.95,"v":0.264},{"t":2001.99,"v":0.268},{"t":2002.02,"v":0.264},{"t":2002.06,"v":0.264},{"t":2002.09,"v":0.304},{"t":2002.12,"v":0.264},{"t":2002.16,"v":0.294},{"t":2002.19,"v":0.313},{"t":2002.23,"v":0.335},{"t":2002.26,"v":0.284},{"t":2002.30,"v":0.264},{"t":2002.32,"v":0.325},{"t":2002.35,"v":0.268},{"t":2002.40,"v":0.264},{"t":2002.60,"v":0.266},{"t":2002.82,"v":0.282},{"t":2002.85,"v":0.267},{"t":2003.10,"v":0.268},{"t":2003.30,"v":0.266},{"t":2003.34,"v":0.274},{"t":2003.37,"v":0.278},{"t":2003.41,"v":0.270},{"t":2003.48,"v":0.266},{"t":2003.74,"v":0.268},{"t":2003.77,"v":0.296},{"t":2003.81,"v":0.325},{"t":2003.84,"v":0.286},{"t":2003.87,"v":0.270},{"t":2003.92,"v":0.272},{"t":2003.96,"v":0.286},{"t":2004.01,"v":0.268},{"t":2004.07,"v":0.266},{"t":2004.40,"v":0.266},{"t":2004.74,"v":0.271},{"t":2004.80,"v":0.266},{"t":2005.15,"v":0.271},{"t":2005.22,"v":0.266},{"t":2005.30,"v":0.279},{"t":2005.33,"v":0.266},{"t":2005.46,"v":0.271},{"t":2005.49,"v":0.267},{"t":2006.05,"v":0.266},{"t":2006.43,"v":0.274},{"t":2006.50,"v":0.267},{"t":2006.55,"v":0.262},{"t":2006.58,"v":0.314},{"t":2006.61,"v":0.284},{"t":2006.64,"v":0.296},{"t":2006.67,"v":0.276},{"t":2006.71,"v":0.325},{"t":2006.74,"v":0.337},{"t":2006.78,"v":0.350},{"t":2006.81,"v":0.345},{"t":2006.85,"v":0.337},{"t":2006.88,"v":0.341},{"t":2006.92,"v":0.335},{"t":2006.95,"v":0.345},{"t":2006.99,"v":0.325},{"t":2007.02,"v":0.360},{"t":2007.06,"v":0.415},{"t":2007.09,"v":0.376},{"t":2007.12,"v":0.341},{"t":2007.16,"v":0.341},{"t":2007.19,"v":0.390},{"t":2007.23,"v":0.352},{"t":2007.26,"v":0.345},{"t":2007.30,"v":0.343},{"t":2007.33,"v":0.341},{"t":2007.37,"v":0.339},{"t":2007.40,"v":0.360},{"t":2007.44,"v":0.345},{"t":2007.47,"v":0.339},{"t":2007.51,"v":0.386},{"t":2007.53,"v":0.429},{"t":2007.56,"v":0.386},{"t":2007.60,"v":0.345},{"t":2007.62,"v":0.335},{"t":2007.65,"v":0.417},{"t":2007.69,"v":0.433},{"t":2007.75,"v":0.433},{"t":2007.85,"v":0.432},{"t":2007.96,"v":0.433},{"t":2007.99,"v":0.388},{"t":2008.03,"v":0.433},{"t":2008.15,"v":0.432},{"t":2008.24,"v":0.417},{"t":2008.27,"v":0.433},{"t":2008.34,"v":0.429},{"t":2008.37,"v":0.415},{"t":2008.41,"v":0.425},{"t":2008.44,"v":0.366},{"t":2008.48,"v":0.356},{"t":2008.51,"v":0.345},{"t":2008.55,"v":0.407},{"t":2008.58,"v":0.431},{"t":2008.62,"v":0.411},{"t":2008.65,"v":0.315},{"t":2008.69,"v":0.296},{"t":2008.76,"v":0.296},{"t":2008.86,"v":0.298},{"t":2008.90,"v":0.315},{"t":2008.93,"v":0.296},{"t":2008.99,"v":0.304},{"t":2009.03,"v":0.296},{"t":2009.24,"v":0.296},{"t":2009.31,"v":0.300},{"t":2009.35,"v":0.296},{"t":2009.45,"v":0.304},{"t":2009.49,"v":0.296},{"t":2009.62,"v":0.300},{"t":2009.69,"v":0.309},{"t":2009.73,"v":0.298},{"t":2009.78,"v":0.304},{"t":2009.82,"v":0.296},{"t":2009.97,"v":0.296},{"t":2010.04,"v":0.300},{"t":2010.08,"v":0.311},{"t":2010.11,"v":0.339},{"t":2010.15,"v":0.325},{"t":2010.18,"v":0.296},{"t":2010.25,"v":0.315},{"t":2010.28,"v":0.296},{"t":2010.39,"v":0.295},{"t":2010.44,"v":0.313},{"t":2010.47,"v":0.296},{"t":2010.74,"v":0.295},{"t":2010.77,"v":0.304},{"t":2010.81,"v":0.296},{"t":2010.91,"v":0.304},{"t":2010.94,"v":0.296},{"t":2011.05,"v":0.300},{"t":2011.08,"v":0.296},{"t":2011.19,"v":0.302},{"t":2011.22,"v":0.296},{"t":2011.33,"v":0.301},{"t":2011.40,"v":0.296},{"t":2011.50,"v":0.298},{"t":2011.57,"v":0.298},{"t":2011.60,"v":0.317},{"t":2011.64,"v":0.329},{"t":2011.67,"v":0.296},{"t":2011.74,"v":0.296},{"t":2011.78,"v":0.304},{"t":2011.81,"v":0.313},{"t":2011.85,"v":0.296},{"t":2011.92,"v":0.298},{"t":2011.99,"v":0.304},{"t":2012.02,"v":0.311},{"t":2012.05,"v":0.314},{"t":2012.09,"v":0.304},{"t":2012.12,"v":0.311},{"t":2012.16,"v":0.296},{"t":2012.40,"v":0.295},{"t":2012.46,"v":0.304},{"t":2012.51,"v":0.309},{"t":2012.54,"v":0.307}
],
"bg": [
{"t":1991.00,"v":0.305},{"t":1991.02,"v":0.315},{"t":1991.06,"v":0.325},{"t":1991.09,"v":0.345},{"t":1991.12,"v":0.345},{"t":1991.15,"v":0.366},{"t":1991.18,"v":0.427},{"t":1991.22,"v":0.468},{"t":1991.25,"v":0.489},{"t":1991.29,"v":0.487},{"t":1991.32,"v":0.472},{"t":1991.34,"v":0.493},{"t":1991.37,"v":0.509},{"t":1991.40,"v":0.532},{"t":1991.43,"v":0.534},{"t":1991.45,"v":0.386},{"t":1991.48,"v":0.253},{"t":1991.51,"v":0.243},{"t":1991.54,"v":0.292},{"t":1991.56,"v":0.243},{"t":1991.60,"v":0.241},{"t":1991.63,"v":0.341},{"t":1991.67,"v":0.294},{"t":1991.70,"v":0.247},{"t":1991.74,"v":0.241},{"t":1991.85,"v":0.241},{"t":1991.95,"v":0.249},{"t":1992.05,"v":0.241},{"t":1992.15,"v":0.245},{"t":1992.26,"v":0.241},{"t":1992.29,"v":0.243},{"t":1992.33,"v":0.407},{"t":1992.36,"v":0.489},{"t":1992.39,"v":0.509},{"t":1992.41,"v":0.533},{"t":1992.45,"v":0.448},{"t":1992.48,"v":0.345},{"t":1992.51,"v":0.304},{"t":1992.55,"v":0.394},{"t":1992.58,"v":0.268},{"t":1992.61,"v":0.345},{"t":1992.64,"v":0.407},{"t":1992.67,"v":0.489},{"t":1992.71,"v":0.523},{"t":1992.74,"v":0.527},{"t":1992.78,"v":0.509},{"t":1992.81,"v":0.356},{"t":1992.84,"v":0.356},{"t":1992.88,"v":0.376},{"t":1992.91,"v":0.386},{"t":1992.95,"v":0.390},{"t":1992.98,"v":0.489},{"t":1993.02,"v":0.521},{"t":1993.05,"v":0.366},{"t":1993.09,"v":0.268},{"t":1993.12,"v":0.243},{"t":1993.16,"v":0.242},{"t":1993.19,"v":0.292},{"t":1993.22,"v":0.325},{"t":1993.26,"v":0.366},{"t":1993.29,"v":0.427},{"t":1993.31,"v":0.466},{"t":1993.35,"v":0.366},{"t":1993.38,"v":0.268},{"t":1993.43,"v":0.241},{"t":1993.55,"v":0.244},{"t":1993.71,"v":0.241},{"t":1993.74,"v":0.268},{"t":1993.78,"v":0.407},{"t":1993.81,"v":0.464},{"t":1993.85,"v":0.325},{"t":1993.88,"v":0.468},{"t":1993.90,"v":0.517},{"t":1993.94,"v":0.488},{"t":1993.99,"v":0.448},{"t":1994.03,"v":0.468},{"t":1994.06,"v":0.386},{"t":1994.09,"v":0.325},{"t":1994.12,"v":0.264},{"t":1994.16,"v":0.241},{"t":1994.30,"v":0.249},{"t":1994.40,"v":0.241},{"t":1994.50,"v":0.245},{"t":1994.60,"v":0.241},{"t":1994.75,"v":0.241},{"t":1994.78,"v":0.333},{"t":1994.82,"v":0.264},{"t":1994.89,"v":0.241},{"t":1995.00,"v":0.247},{"t":1995.10,"v":0.240},{"t":1995.20,"v":0.249},{"t":1995.30,"v":0.241},{"t":1995.40,"v":0.247},{"t":1995.50,"v":0.240},{"t":1995.60,"v":0.251},{"t":1995.70,"v":0.241},{"t":1995.80,"v":0.246},{"t":1995.89,"v":0.241},{"t":1995.92,"v":0.253},{"t":1996.06,"v":0.253},{"t":1996.10,"v":0.333},{"t":1996.13,"v":0.264},{"t":1996.20,"v":0.247},{"t":1996.27,"v":0.239},{"t":1996.40,"v":0.242},{"t":1996.55,"v":0.239},{"t":1996.75,"v":0.239},{"t":1996.81,"v":0.404},{"t":1996.84,"v":0.284},{"t":1996.88,"v":0.247},{"t":1996.93,"v":0.243},{"t":1997.00,"v":0.274},{"t":1997.03,"v":0.304},{"t":1997.06,"v":0.243},{"t":1997.10,"v":0.264},{"t":1997.13,"v":0.243},{"t":1997.17,"v":0.260},{"t":1997.20,"v":0.239},{"t":1997.24,"v":0.264},{"t":1997.27,"v":0.243},{"t":1997.31,"v":0.253},{"t":1997.38,"v":0.243},{"t":1997.45,"v":0.251},{"t":1997.52,"v":0.241},{"t":1997.56,"v":0.247},{"t":1997.60,"v":0.304},{"t":1997.63,"v":0.298},{"t":1997.67,"v":0.345},{"t":1997.71,"v":0.315},{"t":1997.76,"v":0.300},{"t":1997.83,"v":0.298},{"t":1997.90,"v":0.302},{"t":1997.96,"v":0.300},{"t":1998.03,"v":0.296},{"t":1998.10,"v":0.307},{"t":1998.14,"v":0.300},{"t":1998.19,"v":0.309},{"t":1998.24,"v":0.321},{"t":1998.29,"v":0.325},{"t":1998.35,"v":0.315},{"t":1998.38,"v":0.294},{"t":1998.43,"v":0.298},{"t":1998.48,"v":0.292},{"t":1998.52,"v":0.304},{"t":1998.55,"v":0.325},{"t":1998.59,"v":0.304},{"t":1998.66,"v":0.315},{"t":1998.69,"v":0.386},{"t":1998.73,"v":0.452},{"t":1998.76,"v":0.325},{"t":1998.80,"v":0.325},{"t":1998.83,"v":0.304},{"t":1998.86,"v":0.315},{"t":1998.90,"v":0.304},{"t":1998.93,"v":0.462},{"t":1998.97,"v":0.386},{"t":1999.00,"v":0.325},{"t":1999.04,"v":0.315},{"t":1999.07,"v":0.345},{"t":1999.11,"v":0.315},{"t":1999.14,"v":0.366},{"t":1999.18,"v":0.468},{"t":1999.21,"v":0.468},{"t":1999.25,"v":0.427},{"t":1999.28,"v":0.315},{"t":1999.31,"v":0.304},{"t":1999.35,"v":0.300},{"t":1999.38,"v":0.386},{"t":1999.42,"v":0.468},{"t":1999.45,"v":0.448},{"t":1999.49,"v":0.315},{"t":1999.52,"v":0.366},{"t":1999.56,"v":0.415},{"t":1999.59,"v":0.386},{"t":1999.63,"v":0.304},{"t":1999.66,"v":0.315},{"t":1999.69,"v":0.356},{"t":1999.73,"v":0.325},{"t":1999.76,"v":0.315},{"t":1999.80,"v":0.345},{"t":1999.83,"v":0.386},{"t":1999.87,"v":0.460},{"t":1999.90,"v":0.448},{"t":1999.94,"v":0.427},{"t":1999.97,"v":0.466},{"t":2000.01,"v":0.466},{"t":2000.04,"v":0.386},{"t":2000.08,"v":0.345},{"t":2000.11,"v":0.315},{"t":2000.15,"v":0.304},{"t":2000.18,"v":0.298},{"t":2000.21,"v":0.309},{"t":2000.25,"v":0.300},{"t":2000.28,"v":0.304},{"t":2000.32,"v":0.300},{"t":2000.35,"v":0.325},{"t":2000.39,"v":0.366},{"t":2000.42,"v":0.390},{"t":2000.46,"v":0.345},{"t":2000.49,"v":0.284},{"t":2000.53,"v":0.257},{"t":2000.56,"v":0.304},{"t":2000.59,"v":0.315},{"t":2000.63,"v":0.304},{"t":2000.66,"v":0.366},{"t":2000.70,"v":0.427},{"t":2000.73,"v":0.468},{"t":2000.77,"v":0.448},{"t":2000.80,"v":0.386},{"t":2000.84,"v":0.345},{"t":2000.87,"v":0.304},{"t":2000.91,"v":0.288},{"t":2000.94,"v":0.284},{"t":2000.98,"v":0.263},{"t":2001.01,"v":0.243},{"t":2001.04,"v":0.274},{"t":2001.08,"v":0.259},{"t":2001.11,"v":0.294},{"t":2001.15,"v":0.304},{"t":2001.18,"v":0.274},{"t":2001.22,"v":0.294},{"t":2001.25,"v":0.284},{"t":2001.29,"v":0.288},{"t":2001.32,"v":0.300},{"t":2001.36,"v":0.294},{"t":2001.39,"v":0.304},{"t":2001.43,"v":0.286},{"t":2001.46,"v":0.294},{"t":2001.49,"v":0.304},{"t":2001.53,"v":0.300},{"t":2001.56,"v":0.325},{"t":2001.60,"v":0.302},{"t":2001.63,"v":0.300},{"t":2001.67,"v":0.298},{"t":2001.70,"v":0.304},{"t":2001.74,"v":0.302},{"t":2001.77,"v":0.315},{"t":2001.79,"v":0.325},{"t":2001.82,"v":0.345},{"t":2001.85,"v":0.304},{"t":2001.88,"v":0.284},{"t":2001.92,"v":0.304},{"t":2001.95,"v":0.251},{"t":2001.99,"v":0.243},{"t":2002.02,"v":0.284},{"t":2002.06,"v":0.241},{"t":2002.09,"v":0.304},{"t":2002.12,"v":0.243},{"t":2002.16,"v":0.309},{"t":2002.19,"v":0.325},{"t":2002.23,"v":0.284},{"t":2002.26,"v":0.264},{"t":2002.30,"v":0.243},{"t":2002.35,"v":0.247},{"t":2002.40,"v":0.239},{"t":2002.50,"v":0.245},{"t":2002.60,"v":0.241},{"t":2002.70,"v":0.246},{"t":2002.78,"v":0.239},{"t":2002.82,"v":0.323},{"t":2002.85,"v":0.253},{"t":2002.95,"v":0.239},{"t":2003.10,"v":0.249},{"t":2003.25,"v":0.239},{"t":2003.35,"v":0.276},{"t":2003.41,"v":0.253},{"t":2003.48,"v":0.239},{"t":2003.60,"v":0.241},{"t":2003.74,"v":0.239},{"t":2003.77,"v":0.272},{"t":2003.81,"v":0.268},{"t":2003.84,"v":0.253},{"t":2003.87,"v":0.284},{"t":2003.92,"v":0.257},{"t":2003.96,"v":0.288},{"t":2004.00,"v":0.325},{"t":2004.04,"v":0.274},{"t":2004.07,"v":0.243},{"t":2004.20,"v":0.251},{"t":2004.30,"v":0.245},{"t":2004.40,"v":0.253},{"t":2004.50,"v":0.241},{"t":2004.62,"v":0.250},{"t":2004.74,"v":0.259},{"t":2004.80,"v":0.243},{"t":2004.92,"v":0.250},{"t":2005.04,"v":0.245},{"t":2005.08,"v":0.263},{"t":2005.11,"v":0.268},{"t":2005.15,"v":0.253},{"t":2005.18,"v":0.259},{"t":2005.22,"v":0.243},{"t":2005.28,"v":0.263},{"t":2005.32,"v":0.243},{"t":2005.46,"v":0.259},{"t":2005.49,"v":0.243},{"t":2005.60,"v":0.239},{"t":2005.80,"v":0.241},{"t":2006.00,"v":0.240},{"t":2006.05,"v":0.255},{"t":2006.12,"v":0.245},{"t":2006.30,"v":0.243},{"t":2006.43,"v":0.251},{"t":2006.55,"v":0.243},{"t":2006.58,"v":0.304},{"t":2006.62,"v":0.345},{"t":2006.65,"v":0.325},{"t":2006.69,"v":0.427},{"t":2006.72,"v":0.386},{"t":2006.75,"v":0.304},{"t":2006.78,"v":0.294},{"t":2006.81,"v":0.304},{"t":2006.85,"v":0.300},{"t":2006.88,"v":0.298},{"t":2006.92,"v":0.315},{"t":2006.95,"v":0.292},{"t":2006.99,"v":0.325},{"t":2007.02,"v":0.386},{"t":2007.06,"v":0.454},{"t":2007.09,"v":0.407},{"t":2007.12,"v":0.304},{"t":2007.19,"v":0.300},{"t":2007.23,"v":0.298},{"t":2007.26,"v":0.304},{"t":2007.33,"v":0.298},{"t":2007.37,"v":0.304},{"t":2007.40,"v":0.319},{"t":2007.44,"v":0.300},{"t":2007.47,"v":0.304},{"t":2007.51,"v":0.464},{"t":2007.54,"v":0.366},{"t":2007.58,"v":0.319},{"t":2007.61,"v":0.300},{"t":2007.65,"v":0.296},{"t":2007.67,"v":0.345},{"t":2007.69,"v":0.468},{"t":2007.80,"v":0.468},{"t":2007.90,"v":0.464},{"t":2007.96,"v":0.468},{"t":2007.99,"v":0.366},{"t":2008.03,"v":0.468},{"t":2008.24,"v":0.427},{"t":2008.27,"v":0.464},{"t":2008.30,"v":0.468},{"t":2008.37,"v":0.456},{"t":2008.41,"v":0.437},{"t":2008.44,"v":0.325},{"t":2008.48,"v":0.309},{"t":2008.51,"v":0.407},{"t":2008.55,"v":0.458},{"t":2008.58,"v":0.493},{"t":2008.62,"v":0.427},{"t":2008.65,"v":0.356},{"t":2008.69,"v":0.354},{"t":2008.72,"v":0.366},{"t":2008.76,"v":0.352},{"t":2008.79,"v":0.370},{"t":2008.83,"v":0.394},{"t":2008.86,"v":0.354},{"t":2008.90,"v":0.454},{"t":2008.93,"v":0.366},{"t":2008.96,"v":0.386},{"t":2009.00,"v":0.419},{"t":2009.03,"v":0.366},{"t":2009.07,"v":0.360},{"t":2009.10,"v":0.356},{"t":2009.14,"v":0.366},{"t":2009.17,"v":0.356},{"t":2009.21,"v":0.356},{"t":2009.24,"v":0.354},{"t":2009.28,"v":0.382},{"t":2009.31,"v":0.358},{"t":2009.35,"v":0.354},{"t":2009.42,"v":0.356},{"t":2009.45,"v":0.405},{"t":2009.49,"v":0.354},{"t":2009.56,"v":0.356},{"t":2009.59,"v":0.376},{"t":2009.62,"v":0.354},{"t":2009.69,"v":0.366},{"t":2009.73,"v":0.435},{"t":2009.76,"v":0.386},{"t":2009.80,"v":0.409},{"t":2009.83,"v":0.366},{"t":2009.87,"v":0.376},{"t":2009.90,"v":0.354},{"t":2009.94,"v":0.354},{"t":2009.97,"v":0.366},{"t":2010.01,"v":0.376},{"t":2010.04,"v":0.390},{"t":2010.08,"v":0.448},{"t":2010.11,"v":0.527},{"t":2010.15,"v":0.489},{"t":2010.18,"v":0.407},{"t":2010.21,"v":0.366},{"t":2010.25,"v":0.452},{"t":2010.28,"v":0.366},{"t":2010.32,"v":0.358},{"t":2010.39,"v":0.354},{"t":2010.42,"v":0.360},{"t":2010.44,"v":0.444},{"t":2010.47,"v":0.366},{"t":2010.53,"v":0.354},{"t":2010.60,"v":0.358},{"t":2010.67,"v":0.354},{"t":2010.74,"v":0.394},{"t":2010.77,"v":0.407},{"t":2010.81,"v":0.366},{"t":2010.87,"v":0.354},{"t":2010.91,"v":0.374},{"t":2010.94,"v":0.354},{"t":2011.01,"v":0.386},{"t":2011.05,"v":0.354},{"t":2011.08,"v":0.390},{"t":2011.15,"v":0.356},{"t":2011.19,"v":0.394},{"t":2011.22,"v":0.356},{"t":2011.29,"v":0.386},{"t":2011.33,"v":0.354},{"t":2011.40,"v":0.366},{"t":2011.43,"v":0.356},{"t":2011.47,"v":0.386},{"t":2011.50,"v":0.354},{"t":2011.57,"v":0.390},{"t":2011.60,"v":0.452},{"t":2011.64,"v":0.503},{"t":2011.67,"v":0.407},{"t":2011.71,"v":0.366},{"t":2011.74,"v":0.354},{"t":2011.78,"v":0.366},{"t":2011.81,"v":0.446},{"t":2011.85,"v":0.366},{"t":2011.88,"v":0.386},{"t":2011.92,"v":0.354},{"t":2011.95,"v":0.358},{"t":2011.99,"v":0.376},{"t":2012.02,"v":0.407},{"t":2012.05,"v":0.441},{"t":2012.09,"v":0.460},{"t":2012.12,"v":0.407},{"t":2012.16,"v":0.354},{"t":2012.19,"v":0.366},{"t":2012.23,"v":0.358},{"t":2012.26,"v":0.354},{"t":2012.30,"v":0.372},{"t":2012.33,"v":0.366},{"t":2012.37,"v":0.372},{"t":2012.40,"v":0.358},{"t":2012.46,"v":0.386},{"t":2012.49,"v":0.429},{"t":2012.53,"v":0.427}
]
},
"hconcat": [
{
  "width": 1283, "height": 797,
  "title": {"text": "(a)", "orient": "bottom", "anchor": "middle", "dx": -210, "offset": 106, "font": "Liberation Serif", "fontWeight": "bold", "fontSize": 84, "color": "#000"},
  "layer": [
    {"data": {"name": "ag"}, "mark": {"type": "line", "color": "#b3b3b3", "strokeWidth": 1.3, "clip": true},
     "encoding": {
       "x": {"field": "t", "type": "quantitative", "scale": {"domain": [1990.98, 2012.54], "nice": false, "zero": false},
             "axis": {"orient": "bottom", "title": null, "values": [1992,1994,1996,1998,2000,2002,2004,2006,2008,2010,2012], "tickSize": -10, "labelPadding": 25.5, "labelExpr": "pad(toString(datum.value % 100), 2, '0', 'left')"}},
       "y": {"field": "v", "type": "quantitative", "scale": {"domain": [0.34, 0.56], "nice": false, "zero": false},
             "axis": {"orient": "left", "title": null, "values": [0.35,0.40,0.45,0.50,0.55], "format": ".2f", "tickSize": -12.5, "labelPadding": 18.5}}
     }},
    {"data": {"name": "ak"}, "mark": {"type": "line", "color": "#000000", "strokeWidth": 1.3, "clip": true},
     "encoding": {
       "x": {"field": "t", "type": "quantitative", "scale": {"domain": [1990.98, 2012.54], "nice": false, "zero": false},
             "axis": {"orient": "top", "title": null, "labels": false, "values": [1992,1994,1996,1998,2000,2002,2004,2006,2008,2010,2012], "tickSize": -10}},
       "y": {"field": "v", "type": "quantitative", "scale": {"domain": [0.34, 0.56], "nice": false, "zero": false},
             "axis": {"orient": "right", "title": null, "labels": false, "values": [0.35,0.40,0.45,0.50,0.55], "tickSize": -12.5}}
     }},
    {"data": {"name": "crisis"}, "mark": {"type": "rule", "color": "#000000", "strokeWidth": 1.8, "strokeDash": [28, 25]},
     "encoding": {"x": {"field": "t", "type": "quantitative", "scale": {"domain": [1990.98, 2012.54], "nice": false, "zero": false}, "axis": null}}}
  ],
  "resolve": {"axis": {"x": "independent", "y": "independent"}}
},
{
  "width": 1285, "height": 797,
  "title": {"text": "(b)", "orient": "bottom", "anchor": "middle", "dx": -210, "offset": 106, "font": "Liberation Serif", "fontWeight": "bold", "fontSize": 84, "color": "#000"},
  "layer": [
    {"data": {"name": "bg"}, "mark": {"type": "line", "color": "#b3b3b3", "strokeWidth": 1.3, "clip": true},
     "encoding": {
       "x": {"field": "t", "type": "quantitative", "scale": {"domain": [1990.98, 2012.54], "nice": false, "zero": false},
             "axis": {"orient": "bottom", "title": null, "values": [1992,1994,1996,1998,2000,2002,2004,2006,2008,2010,2012], "tickSize": -10, "labelPadding": 25.5, "labelExpr": "pad(toString(datum.value % 100), 2, '0', 'left')"}},
       "y": {"field": "v", "type": "quantitative", "scale": {"domain": [0.23, 0.55], "nice": false, "zero": false},
             "axis": {"orient": "left", "title": null, "values": [0.30,0.40,0.50], "format": ".2f", "tickSize": -12.5, "labelPadding": 18.5}}
     }},
    {"data": {"name": "bk"}, "mark": {"type": "line", "color": "#000000", "strokeWidth": 1.3, "clip": true},
     "encoding": {
       "x": {"field": "t", "type": "quantitative", "scale": {"domain": [1990.98, 2012.54], "nice": false, "zero": false},
             "axis": {"orient": "top", "title": null, "labels": false, "values": [1992,1994,1996,1998,2000,2002,2004,2006,2008,2010,2012], "tickSize": -10}},
       "y": {"field": "v", "type": "quantitative", "scale": {"domain": [0.23, 0.55], "nice": false, "zero": false},
             "axis": {"orient": "right", "title": null, "labels": false, "values": [0.30,0.40,0.50], "tickSize": -12.5}}
     }},
    {"data": {"name": "crisis"}, "mark": {"type": "rule", "color": "#000000", "strokeWidth": 1.8, "strokeDash": [28, 25]},
     "encoding": {"x": {"field": "t", "type": "quantitative", "scale": {"domain": [1990.98, 2012.54], "nice": false, "zero": false}, "axis": null}}}
  ],
  "resolve": {"axis": {"x": "independent", "y": "independent"}}
}
],
"spacing": 355,
"bounds": "flush"
}
